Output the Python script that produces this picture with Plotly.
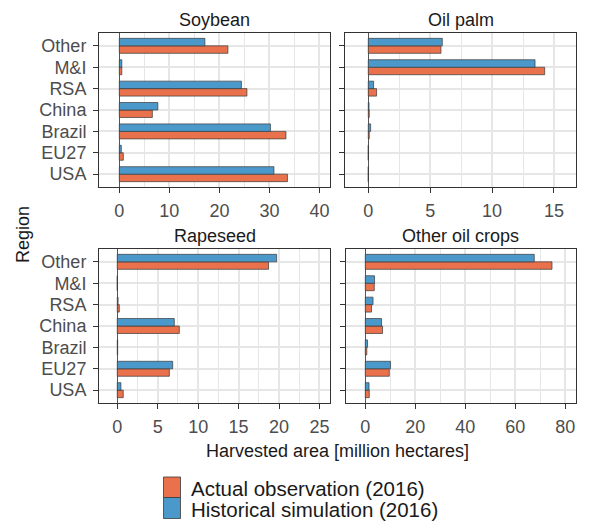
import plotly.graph_objects as go

# Regions, listed bottom-to-top as they appear on the category axis
regions = ["USA", "EU27", "Brazil", "China", "RSA", "M&I", "Other"]

crops = ["Soybean", "Oil palm", "Rapeseed", "Other oil crops"]

# Harvested area, million hectares (order follows `regions`)
observed = {
    "Soybean":         [33.6, 0.8, 33.3, 6.6, 25.5, 0.5, 21.7],
    "Oil palm":        [0.0, 0.0, 0.08, 0.08, 0.67, 14.25, 5.87],
    "Rapeseed":        [0.74, 6.44, 0.05, 7.67, 0.25, 0.0, 18.7],
    "Other oil crops": [1.6, 9.6, 0.6, 6.9, 2.5, 3.6, 74.7],
}
simulated = {
    "Soybean":         [30.9, 0.4, 30.2, 7.7, 24.4, 0.5, 17.1],
    "Oil palm":        [0.0, 0.0, 0.19, 0.06, 0.43, 13.47, 5.98],
    "Rapeseed":        [0.45, 6.85, 0.05, 7.05, 0.1, 0.0, 19.7],
    "Other oil crops": [1.5, 10.1, 0.9, 6.5, 3.1, 3.7, 67.6],
}

obs_name = "Actual observation (2016)"
sim_name = "Historical simulation (2016)"
obs_color = "#E9714B"
sim_color = "#4B99CB"

W, H = 592, 531
FONT = "Liberation Sans, Arial, Helvetica, sans-serif"
TICK_GREY = "#4D4D4D"
DARK = "#333333"
GRID = "#E6E6E6"

# panel boxes in pixels: (left, right, top, bottom)
panels = {
    "Soybean":         (99, 330, 33, 187),
    "Oil palm":        (345, 576, 33, 187),
    "Rapeseed":        (99, 330, 249, 403),
    "Other oil crops": (345.7, 576, 249, 403),
}
xranges = {
    "Soybean": [-4.06, 42.1],
    "Oil palm": [-1.88, 16.78],
    "Rapeseed": [-2.26, 26.3],
    "Other oil crops": [-7.84, 84.3],
}
xdticks = {"Soybean": 10, "Oil palm": 5, "Rapeseed": 5, "Other oil crops": 20}

fig = go.Figure()
layout = dict(
    width=W, height=H,
    margin=dict(l=0, r=0, t=0, b=0),
    paper_bgcolor="white", plot_bgcolor="white",
    barmode="group", bargap=0.3, bargroupgap=0,
    showlegend=False,
    font=dict(family=FONT, size=18, color="#1A1A1A"),
)

annotations = []
shapes = []

for i, crop in enumerate(crops):
    n = "" if i == 0 else str(i + 1)
    xa, ya = "x" + n, "y" + n
    l, r, t, b = panels[crop]
    for name, vals, col in ((obs_name, observed, obs_color), (sim_name, simulated, sim_color)):
        fig.add_trace(go.Bar(
            x=vals[crop], y=regions, orientation="h", name=name,
            marker=dict(color=col, line=dict(color="#3A3A3A", width=0.7)),
            xaxis=xa, yaxis=ya, showlegend=False,
        ))
    dt = xdticks[crop]
    layout["xaxis" + n] = dict(
        domain=[l / W, r / W], anchor=ya, range=xranges[crop],
        tickmode="linear", tick0=0, dtick=dt,
        showgrid=True, gridcolor=GRID, gridwidth=1.5,
        minor=dict(showgrid=True, gridcolor=GRID, gridwidth=1.2, tick0=dt / 2, dtick=dt),
        zeroline=True, zerolinecolor="#555555", zerolinewidth=1.2,
        showline=True, linecolor=DARK, linewidth=1, mirror=True,
        ticks="outside", ticklen=5, tickcolor=DARK, tickwidth=1,
        tickfont=dict(size=18, color=TICK_GREY, family=FONT),
        ticklabelstandoff=2,
        fixedrange=True,
    )
    layout["yaxis" + n] = dict(
        domain=[1 - b / H, 1 - t / H], anchor=xa,
        type="category", categoryorder="array", categoryarray=regions,
        tickmode="array", tickvals=regions, ticktext=regions,
        range=[-0.6, 6.6],
        showgrid=True, gridcolor=GRID, gridwidth=1.5,
        showline=True, linecolor=DARK, linewidth=1, mirror=True,
        ticks="outside", ticklen=5, tickcolor=DARK, tickwidth=1,
        showticklabels=(crop in ("Soybean", "Rapeseed")),
        tickfont=dict(size=18, color=TICK_GREY, family=FONT),
        ticklabelstandoff=3,
        fixedrange=True,
    )
    # facet strip title
    annotations.append(dict(
        x=(l + r) / 2 / W, y=1 - (t - 13) / H, xref="paper", yref="paper",
        text=crop, showarrow=False, xanchor="center", yanchor="middle",
        font=dict(size=18, color="#1A1A1A", family=FONT),
    ))

# axis titles
annotations.append(dict(
    x=337.5 / W, y=1 - 451 / H, xref="paper", yref="paper",
    text="Harvested area [million hectares]", showarrow=False,
    xanchor="center", yanchor="middle",
    font=dict(size=18, color="#1A1A1A", family=FONT),
))
annotations.append(dict(
    x=23 / W, y=1 - 235 / H, xref="paper", yref="paper",
    text="Region", showarrow=False, textangle=-90,
    xanchor="center", yanchor="middle",
    font=dict(size=18, color="#1A1A1A", family=FONT),
))

# legend: two stacked keys with labels
key_l, key_r = 163.5, 180.5
for (name, col, top, bot) in ((obs_name, obs_color, 477, 497.5), (sim_name, sim_color, 497.5, 518.5)):
    shapes.append(dict(
        type="rect", xref="paper", yref="paper",
        x0=key_l / W, x1=key_r / W, y0=1 - bot / H, y1=1 - top / H,
        fillcolor=col, line=dict(color="#3A3A3A", width=0.8),
    ))
    annotations.append(dict(
        x=189 / W, y=1 - ((top + bot) / 2 + 1) / H, xref="paper", yref="paper",
        text=name, showarrow=False, xanchor="left", yanchor="middle",
        font=dict(size=20.5, color="#1A1A1A", family=FONT),
    ))

layout["annotations"] = annotations
layout["shapes"] = shapes
fig.update_layout(**layout)

fig.write_html("out.html")
